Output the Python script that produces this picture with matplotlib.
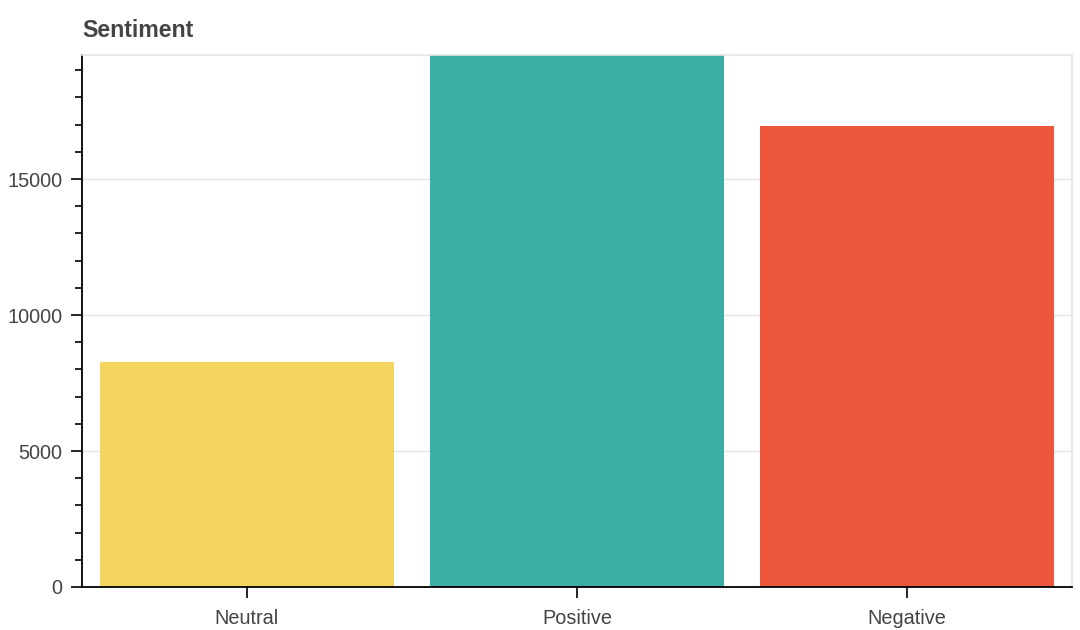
import numpy as np
import matplotlib.pyplot as plt
from matplotlib.ticker import MultipleLocator

plt.rcParams['font.family'] = ['Liberation Sans', 'DejaVu Sans']

categories = ["Neutral", "Positive", "Negative"]
counts = [8270, 19560, 16950]
colors = ["#F4D55E", "#3DAEA6", "#EC563B"]

fig = plt.figure(figsize=(10.8, 6.3), dpi=100)
ax = fig.add_axes([82/1080, 43/630, 990/1080, 532/630])

pos = np.arange(len(categories))
ax.bar(pos, counts, width=0.89, color=colors, zorder=2)

ax.set_xlim(-0.5, len(categories) - 0.5)
ax.set_ylim(0, max(counts))
ax.set_xticks(pos)
ax.set_xticklabels(categories)
ax.yaxis.set_major_locator(MultipleLocator(5000))
ax.yaxis.set_minor_locator(MultipleLocator(1000))

ax.grid(axis='y', which='major', color='#e5e5e5', linewidth=1, zorder=0)
ax.set_axisbelow(True)

for side in ['top', 'right']:
    ax.spines[side].set_color('#e5e5e5')
    ax.spines[side].set_linewidth(1.2)
for side in ['left', 'bottom']:
    ax.spines[side].set_color('black')
    ax.spines[side].set_linewidth(1.3)

ax.tick_params(axis='both', which='major', direction='out', length=8, width=1.2,
               colors='black', labelcolor='#444444', labelsize=14.3, pad=6)
ax.tick_params(axis='x', which='major', pad=8)
ax.tick_params(axis='y', which='minor', direction='out', length=5, width=1.2, color='black')

fig.text(82/1080, 1 - 37/630, "Sentiment", fontsize=16.7, fontweight='bold',
         color='#444444', ha='left', va='baseline')

fig.savefig("out.png", dpi=100)
